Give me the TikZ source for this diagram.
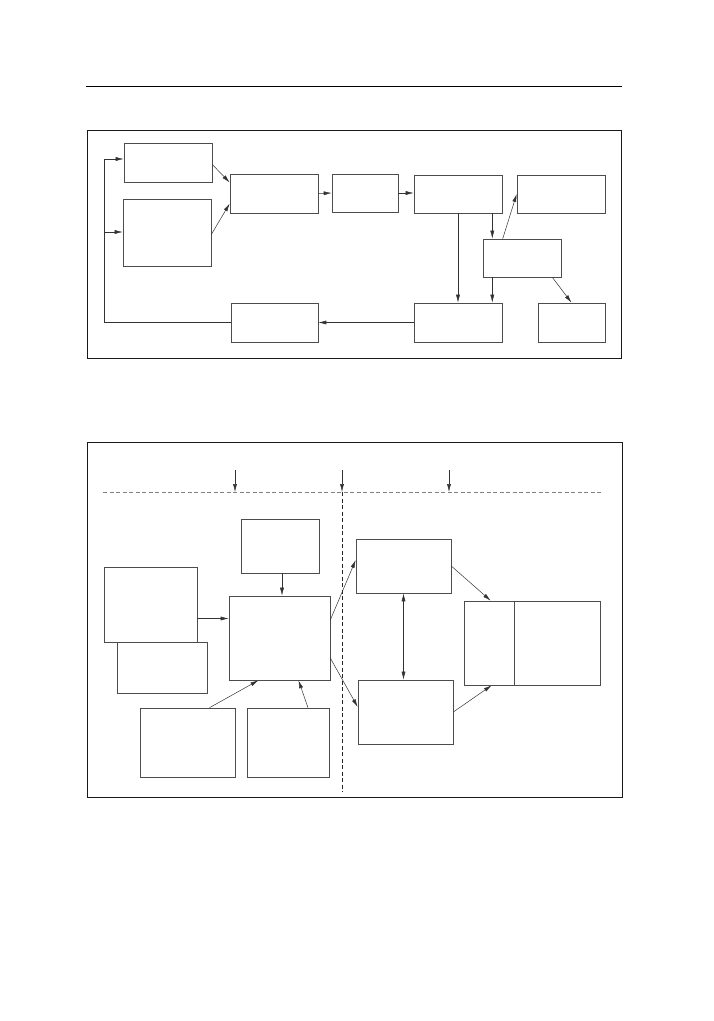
\documentclass[tikz,border=0pt]{standalone}
\usetikzlibrary{arrows.meta, positioning}

\tikzset{
    blk/.style={draw=black!70, line width=0.6pt, inner sep=0pt},
    frame/.style={draw=black!90, line width=0.6pt, inner sep=0pt},
    arr/.style={draw=black!80, line width=0.5pt, -{Latex[length=8pt,width=4pt]}},
    dblarr/.style={draw=black!80, line width=0.5pt, {Latex[length=8pt,width=4pt]}-{Latex[length=8pt,width=4pt]}},
    wire/.style={draw=black!80, line width=0.5pt},
}

\begin{document}
\begin{tikzpicture}[x=1pt, y=-1pt]
    \useasboundingbox (0,0) rectangle (714,1021);
    \draw[line width=0.7pt] (86,86) -- (622,86);

    % upper diagram
    \node[frame, minimum width=534pt, minimum height=228pt] (upper) at (354,244) {};
    \node[blk, minimum width=88pt, minimum height=39pt] (in1) at (168,162.5) {};
    \node[blk, minimum width=88pt, minimum height=67pt] (in2) at (167,232.5) {};
    \node[blk, minimum width=88pt, minimum height=39pt] (sum) at (274,193.5) {};
    \node[blk, minimum width=66pt, minimum height=38pt] (ctl) at (365,193) {};
    \node[blk, minimum width=88pt, minimum height=38pt] (plant) at (458,194) {};
    \node[blk, minimum width=88pt, minimum height=38pt] (outA) at (561,194) {};
    \node[blk, minimum width=78pt, minimum height=38pt] (split) at (522,258) {};
    \node[blk, minimum width=88pt, minimum height=39pt] (meas) at (458,322.5) {};
    \node[blk, minimum width=67pt, minimum height=39pt] (outB) at (571.5,322.5) {};
    \node[blk, minimum width=87pt, minimum height=39pt] (fback) at (274.5,322.5) {};

    \coordinate (tap) at (104,159);
    \coordinate (tap2) at (104,232);
    \draw[arr] (fback.west) -| (tap) -- (tap -| in1.west);
    \draw[arr] (tap2) -- (tap2 -| in2.west);
    \draw[arr] ([yshift=-2pt]in1.east) -- ([yshift=11pt]sum.west);
    \draw[arr] ([yshift=-2pt]in2.east) -- ([yshift=-10pt]sum.west);
    \draw[arr] (sum.east) -- (ctl.west);
    \draw[arr] (ctl.east) -- (ctl.east -| plant.west);
    \draw[arr] (plant.south) -- (meas.north);
    \draw[arr] ([xshift=-10pt]plant.south east) -- ([xshift=-10pt]plant.south east |- split.north);
    \draw[arr] ([xshift=-10pt]meas.north east |- split.south) -- ([xshift=-10pt]meas.north east);
    \draw[arr] ([xshift=20pt]split.north west) -- (outA.west);
    \draw[arr] ([xshift=-9pt]split.south east) -- (outB.north);
    \draw[arr] (meas.west) -- (fback.east);

    % lower diagram
    \node[frame, minimum width=535pt, minimum height=355pt] (lower) at (354.5,619.5) {};
    \coordinate (hl) at (103,492);
    \coordinate (hr) at (603,492);
    \coordinate (vt) at (342,492);
    \coordinate (vb) at (342,792);
    \draw[draw=black!50, line width=0.5pt, dash pattern=on 4pt off 2.5pt] (hl) -- (hr);
    \draw[draw=black!85, line width=0.5pt, dash pattern=on 4pt off 2.5pt] (vt) -- (vb);
    \foreach \x [count=\i] in {235,342,449} {
        \coordinate (cut\i) at (\x,470);
        \draw[arr] (cut\i) -- (cut\i |- hl);
    }

    \node[blk, minimum width=78pt, minimum height=54pt] (top) at (280,546) {};
    \node[blk, minimum width=90pt, minimum height=51pt] (low) at (162,667.5) {};
    \node[blk, fill=white, minimum width=93pt, minimum height=75pt] (left) at (150.5,604.5) {};
    \node[blk, minimum width=101pt, minimum height=84pt] (core) at (279.5,638) {};
    \node[blk, minimum width=95pt, minimum height=69pt] (botl) at (187.5,742.5) {};
    \node[blk, minimum width=82pt, minimum height=69pt] (botr) at (288,742.5) {};
    \node[blk, minimum width=95pt, minimum height=54pt] (upr) at (403.5,566) {};
    \node[blk, minimum width=95pt, minimum height=64pt] (lwr) at (405.5,712) {};
    \node[blk, minimum width=136pt, minimum height=84pt] (sink) at (532,643) {};
    \draw[blk] ([xshift=51pt]sink.north west) -- ([xshift=51pt]sink.south west);

    \draw[arr] ([xshift=2pt]top.south) -- ([xshift=2pt]top.south |- core.north);
    \draw[arr] ([yshift=-14pt]left.east) -- ([yshift=-14pt]left.east -| core.west);
    \draw[arr] ([xshift=22pt]botl.north) -- ([xshift=-21pt]core.south);
    \draw[arr] ([xshift=20pt]botr.north) -- ([xshift=19pt]core.south);
    \draw[arr] ([yshift=18pt]core.east) -- ([yshift=6pt]upr.west);
    \draw[arr] ([yshift=-20pt]core.east) -- ([yshift=5pt]lwr.west);
    \draw[dblarr] (upr.south) -- (upr.south |- lwr.north);
    \draw[arr] (upr.east) -- ([xshift=27pt]sink.north west);
    \draw[arr] (lwr.east) -- ([xshift=28pt]sink.south west);
\end{tikzpicture}
\end{document}
